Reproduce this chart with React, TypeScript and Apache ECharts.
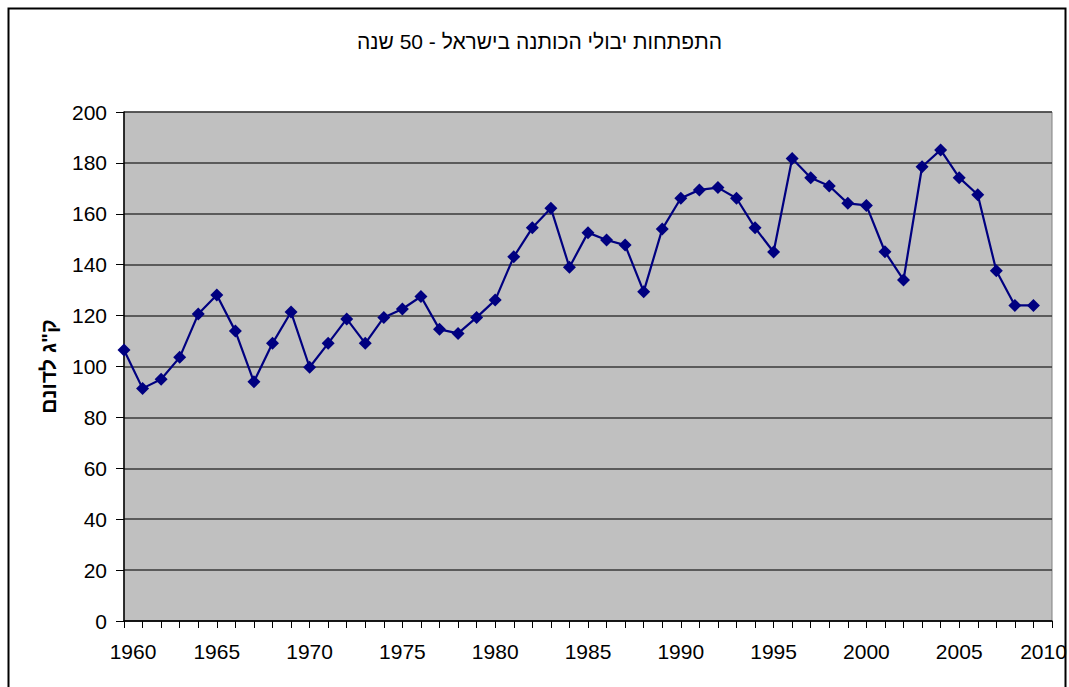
import React, { useEffect, useRef } from "react";
import * as echarts from "echarts";

const titleText = "התפתחות יבולי הכותנה בישראל - 50 שנה";
const yAxisName = "ק\"ג לדונם";

const years: number[] = [
  1960, 1961, 1962, 1963, 1964, 1965, 1966, 1967, 1968, 1969,
  1970, 1971, 1972, 1973, 1974, 1975, 1976, 1977, 1978, 1979,
  1980, 1981, 1982, 1983, 1984, 1985, 1986, 1987, 1988, 1989,
  1990, 1991, 1992, 1993, 1994, 1995, 1996, 1997, 1998, 1999,
  2000, 2001, 2002, 2003, 2004, 2005, 2006, 2007, 2008, 2009,
];

const yields: number[] = [
  106.5, 91.4, 95.0, 103.6, 120.6, 128.1, 113.9, 94.0, 109.1, 121.4,
  99.7, 109.1, 118.7, 109.1, 119.3, 122.6, 127.5, 114.6, 113.0, 119.3,
  126.1, 143.1, 154.5, 162.2, 139.0, 152.6, 149.7, 147.7, 129.4, 154.0,
  166.1, 169.4, 170.3, 166.1, 154.5, 145.0, 181.7, 174.2, 170.9, 164.1,
  163.3, 145.1, 134.0, 178.5, 185.1, 174.2, 167.5, 137.6, 124.0, 124.0,
];

const xMin = 1960;
const xMax = 2010;
const yMin = 0;
const yMax = 200;
const yInterval = 20;
const xLabelStep = 5;

export default function App() {
  const ref = useRef<HTMLDivElement>(null);

  useEffect(() => {
    if (!ref.current) return;
    const chart = echarts.init(ref.current, null, { renderer: "svg" });
    const font = "'Liberation Sans', Arial, sans-serif";
    const labelStyle = { fontFamily: font, fontSize: 21, color: "#000" };
    chart.setOption({
      animation: false,
      backgroundColor: "#ffffff",
      textStyle: { fontFamily: font },
      title: {
        text: titleText,
        left: 352,
        top: 26,
        textStyle: { fontFamily: font, fontSize: 21, fontWeight: "normal", color: "#000" },
      },
      graphic: [
        {
          type: "rect",
          shape: { x: 8.5, y: 8.5, width: 1057, height: 700 },
          style: { fill: "none", stroke: "#000", lineWidth: 2 },
          silent: true,
          z: 100,
        },
      ],
      grid: {
        left: 124,
        right: 17,
        top: 112,
        bottom: 66,
        outerBoundsMode: "none",
        containLabel: false,
        show: true,
        backgroundColor: "#c0c0c0",
        borderColor: "#808080",
        borderWidth: 1,
      },
      xAxis: {
        type: "value",
        min: xMin,
        max: xMax,
        interval: 1,
        axisLine: { show: true, onZero: false, lineStyle: { color: "#000", width: 1.5 } },
        axisTick: { show: true, length: 7, lineStyle: { color: "#000", width: 1 } },
        splitLine: { show: false },
        axisLabel: {
          margin: 20,
          ...labelStyle,
          formatter: (v: number) => {
            if (v % xLabelStep !== 0) return "";
            if (v === xMin) return "{first|" + v + "}";
            if (v === xMax) return "{last|" + v + "}";
            return String(v);
          },
          rich: {
            first: { ...labelStyle, padding: [0, 0, 0, 18] },
            last: { ...labelStyle, padding: [0, 17, 0, 0] },
          },
        },
      },
      yAxis: {
        type: "value",
        min: yMin,
        max: yMax,
        interval: yInterval,
        name: yAxisName,
        nameLocation: "middle",
        nameGap: 65,
        nameRotate: 90,
        nameTextStyle: { fontFamily: font, fontSize: 21, fontWeight: "bold", color: "#000" },
        axisLine: { show: true, lineStyle: { color: "#000", width: 1.5 } },
        axisTick: { show: true, length: 8, lineStyle: { color: "#000", width: 1 } },
        splitLine: { show: true, lineStyle: { color: "#3a3a3a", width: 1.5 } },
        axisLabel: { margin: 17, ...labelStyle },
      },
      series: [
        {
          type: "line",
          data: years.map((y, i) => [y, yields[i]]),
          symbol: "diamond",
          symbolSize: 13,
          showSymbol: true,
          lineStyle: { color: "#000080", width: 2.2 },
          itemStyle: { color: "#000080" },
        },
      ],
    });
    return () => chart.dispose();
  }, []);

  return (
    <div
      ref={ref}
      style={{ position: "fixed", left: 0, top: 0, width: 1069, height: 687 }}
    />
  );
}
